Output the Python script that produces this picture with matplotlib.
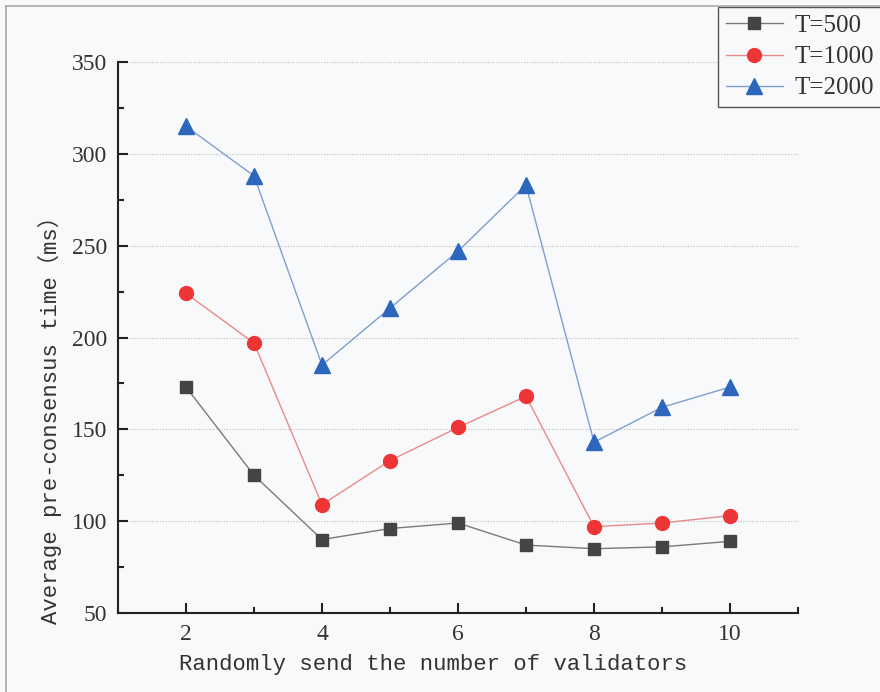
import numpy as np
import matplotlib.pyplot as plt
from matplotlib.lines import Line2D
from matplotlib.ticker import MultipleLocator

validators = [2, 3, 4, 5, 6, 7, 8, 9, 10]
t500 = [173, 125, 90, 96, 99, 87, 85, 86, 89]
t1000 = [224, 197, 109, 133, 151, 168, 97, 99, 103]
t2000 = [315, 288, 185, 216, 247, 283, 143, 162, 173]

BG = "#f8f9fa"
TICK_FONT = ["Liberation Serif", "DejaVu Serif"]
LABEL_FONT = ["Liberation Mono", "Noto Sans CJK SC", "DejaVu Sans Mono"]


def main():
    fig = plt.figure(figsize=(8.8, 6.92), dpi=100, facecolor=BG)
    ax = fig.add_axes([118 / 880, 1 - 613 / 692, 680 / 880, 551 / 692])
    ax.set_facecolor(BG)

    ax.plot(validators, t500, color="#7a7a7a", lw=1.0, marker="s", ms=9,
            mfc="#444444", mec="#444444", label="T=500")
    ax.plot(validators, t1000, color="#e88a8a", lw=1.0, marker="o", ms=10,
            mfc="#ee3535", mec="#ee3535", label="T=1000")
    ax.plot(validators, t2000, color="#7f9fcf", lw=1.0, marker="^", ms=11,
            mfc="#2d66bd", mec="#2d66bd", label="T=2000")

    ax.set_xlim(1, 11)
    ax.set_ylim(50, 350)
    ax.xaxis.set_major_locator(MultipleLocator(2))
    ax.xaxis.set_minor_locator(MultipleLocator(1))
    ax.yaxis.set_major_locator(MultipleLocator(50))
    ax.yaxis.set_minor_locator(MultipleLocator(25))
    ax.tick_params(which="both", direction="in", width=1.5, color="#222222")
    ax.tick_params(which="major", length=7, labelsize=17, pad=8)
    ax.tick_params(which="minor", length=4)
    for lbl in ax.get_xticklabels() + ax.get_yticklabels():
        lbl.set_family(TICK_FONT)
        lbl.set_color("#333333")

    for side in ["top", "right"]:
        ax.spines[side].set_visible(False)
    for side in ["left", "bottom"]:
        ax.spines[side].set_linewidth(1.5)
        ax.spines[side].set_color("#222222")

    ax.yaxis.grid(True, which="major", linestyle=(0, (1, 1.5)), color="#bbbbbb", lw=0.8)
    ax.set_axisbelow(True)

    ax.set_xlabel("Randomly send the number of validators", fontsize=16,
                  family=LABEL_FONT, color="#333333")
    ax.xaxis.set_label_coords(0.463, -0.075)
    ax.set_ylabel("Average pre-consensus time\uff08ms\uff09", fontsize=16,
                  family=LABEL_FONT, color="#333333")
    ax.yaxis.set_label_coords(-0.082, 0.36)

    leg = ax.legend(loc="upper left", bbox_to_anchor=(718 / 880, 1 - 7 / 692),
                    bbox_transform=fig.transFigure, fancybox=False,
                    edgecolor="#555555", framealpha=1, facecolor=BG,
                    prop={"family": TICK_FONT, "size": 18},
                    handlelength=2.3, borderpad=0.3, labelspacing=0.35,
                    handletextpad=0.45, borderaxespad=0)
    leg.get_frame().set_linewidth(1.0)
    for txt in leg.get_texts():
        txt.set_color("#333333")

    # outer picture frame on left and top
    fig.add_artist(Line2D([6 / 880, 6 / 880], [0, 1 - 6 / 692], color="#aaaaaa", lw=1.2))
    fig.add_artist(Line2D([6 / 880, 1], [1 - 6 / 692, 1 - 6 / 692], color="#aaaaaa", lw=1.2))

    fig.savefig("out.png", dpi=100, facecolor=BG)


if __name__ == "__main__":
    main()
